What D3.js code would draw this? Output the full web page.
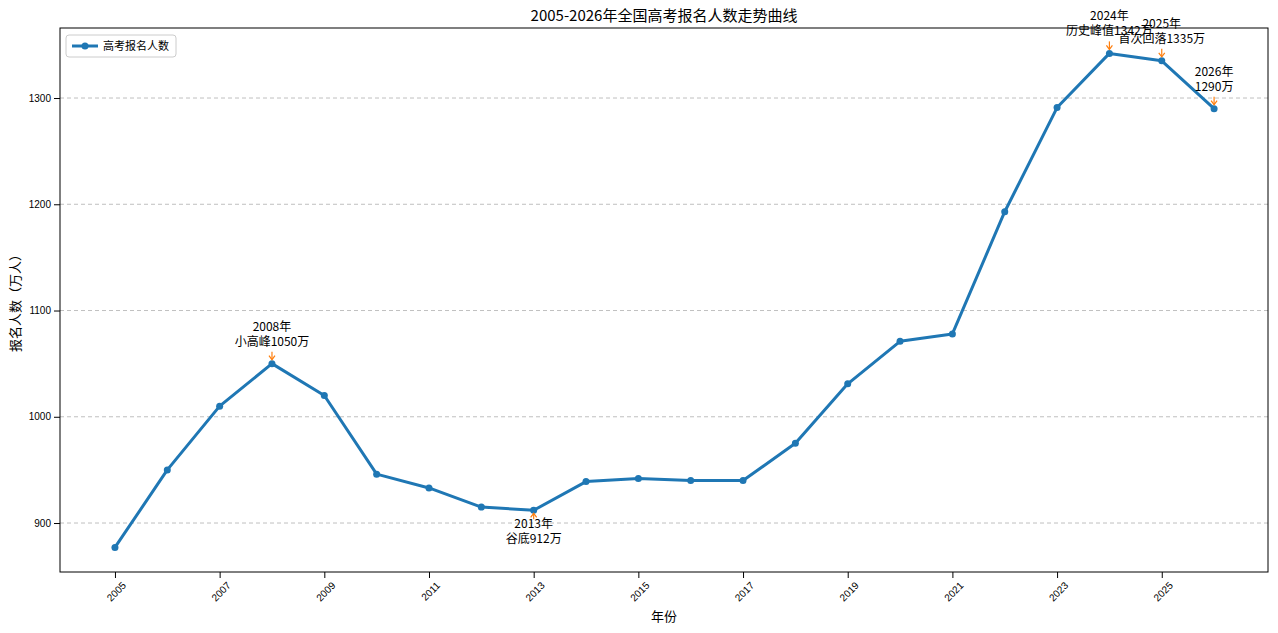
<!DOCTYPE html>
<html><head><meta charset="utf-8">
<script src="https://cdn.jsdelivr.net/npm/d3@7"></script>
<style>body{margin:0;background:#fff;font-family:"Noto Sans CJK SC","DejaVu Sans",sans-serif}</style>
</head><body><div class="viz"></div>
<script>
var years = d3.range(2005, 2027);
var applicants = [877, 950, 1010, 1050, 1020, 946, 933, 915, 912, 939, 942, 940, 940, 975, 1031, 1071, 1078, 1193, 1291, 1342, 1335, 1290];
var xTicks = [2005, 2007, 2009, 2011, 2013, 2015, 2017, 2019, 2021, 2023, 2025];
var yTicks = [900, 1000, 1100, 1200, 1300];
var notes = [
  { year: 2008, lines: ["2008年", "小高峰1050万"], below: false },
  { year: 2013, lines: ["2013年", "谷底912万"], below: true },
  { year: 2024, lines: ["2024年", "历史峰值1342万"], below: false },
  { year: 2025, lines: ["2025年", "首次回落1335万"], below: false },
  { year: 2026, lines: ["2026年", "1290万"], below: false }
];

var W = 1278, H = 633, m = { top: 28, right: 10, bottom: 61, left: 60 };
var svg = d3.select(".viz").append("svg").attr("width", W).attr("height", H);
var x = d3.scaleLinear().domain([2003.95, 2027.03]).range([m.left, W - m.right]);
var y = d3.scaleLinear().domain([853.9, 1365.9]).range([H - m.bottom, m.top]);
var color = "#1f77b4";

svg.append("g").selectAll("line").data(yTicks).enter().append("line")
  .attr("x1", m.left).attr("x2", W - m.right).attr("y1", d => y(d)).attr("y2", d => y(d))
  .attr("stroke", "#b0b0b0").attr("stroke-dasharray", "4,3").attr("stroke-width", 0.8);

var xa = svg.append("g").attr("transform", "translate(0," + (H - m.bottom) + ")")
  .call(d3.axisBottom(x).tickValues(xTicks).tickFormat(d3.format("d")).tickSizeOuter(0));
xa.selectAll("text").attr("transform", "rotate(-45)").attr("text-anchor", "end")
  .attr("dx", "-0.2em").attr("dy", "0.9em").style("font-size", "10px");
var ya = svg.append("g").attr("transform", "translate(" + m.left + ",0)")
  .call(d3.axisLeft(y).tickValues(yTicks).tickFormat(d3.format("d")).tickSizeOuter(0));
ya.selectAll("text").style("font-size", "10px");
svg.selectAll(".domain").remove();
svg.append("rect").attr("x", m.left).attr("y", m.top).attr("width", W - m.left - m.right)
  .attr("height", H - m.top - m.bottom).attr("fill", "none").attr("stroke", "#000");

var line = d3.line().x((d, i) => x(years[i])).y(d => y(d));
svg.append("path").datum(applicants).attr("d", line).attr("fill", "none")
  .attr("stroke", color).attr("stroke-width", 3).attr("stroke-linejoin", "round");
svg.selectAll("circle.pt").data(applicants).enter().append("circle")
  .attr("cx", (d, i) => x(years[i])).attr("cy", d => y(d)).attr("r", 3.5).attr("fill", color);

notes.forEach(function (n) {
  var v = applicants[years.indexOf(n.year)];
  var px = x(n.year), py = y(v);
  var tip = n.below ? py + 3 : py - 4, tail = n.below ? py + 9 : py - 12;
  svg.append("line").attr("x1", px).attr("x2", px).attr("y1", tail).attr("y2", tip)
    .attr("stroke", "#ff7f0e").attr("stroke-width", 1.2);
  svg.append("path").attr("d", n.below
      ? `M${px - 3},${tip + 4}L${px},${tip}L${px + 3},${tip + 4}`
      : `M${px - 3},${tip - 4}L${px},${tip}L${px + 3},${tip - 4}`)
    .attr("fill", "none").attr("stroke", "#ff7f0e").attr("stroke-width", 1.2);
  var base = n.below ? py + 8 : py - 43;
  n.lines.forEach(function (t, i) {
    svg.append("text").attr("x", px).attr("y", base + i * 15 + 10).attr("text-anchor", "middle")
      .style("font-size", "12px").text(t);
  });
});

svg.append("text").attr("x", (m.left + W - m.right) / 2).attr("y", 21).attr("text-anchor", "middle")
  .style("font-size", "15px").text("2005-2026年全国高考报名人数走势曲线");
svg.append("text").attr("x", (m.left + W - m.right) / 2).attr("y", 621).attr("text-anchor", "middle")
  .style("font-size", "13px").text("年份");
svg.append("text").attr("transform", "translate(20," + (m.top + (H - m.top - m.bottom) / 2) + ") rotate(-90)")
  .attr("text-anchor", "middle").style("font-size", "13px").text("报名人数（万人）");

var lg = svg.append("g").attr("transform", "translate(66,35)");
lg.append("rect").attr("width", 110).attr("height", 22).attr("rx", 3).attr("fill", "#fff").attr("stroke", "#ccc");
lg.append("line").attr("x1", 6).attr("x2", 32).attr("y1", 11).attr("y2", 11).attr("stroke", color).attr("stroke-width", 3);
lg.append("circle").attr("cx", 19).attr("cy", 11).attr("r", 3.5).attr("fill", color);
lg.append("text").attr("x", 37).attr("y", 15).style("font-size", "11px").text("高考报名人数");
</script></body></html>
